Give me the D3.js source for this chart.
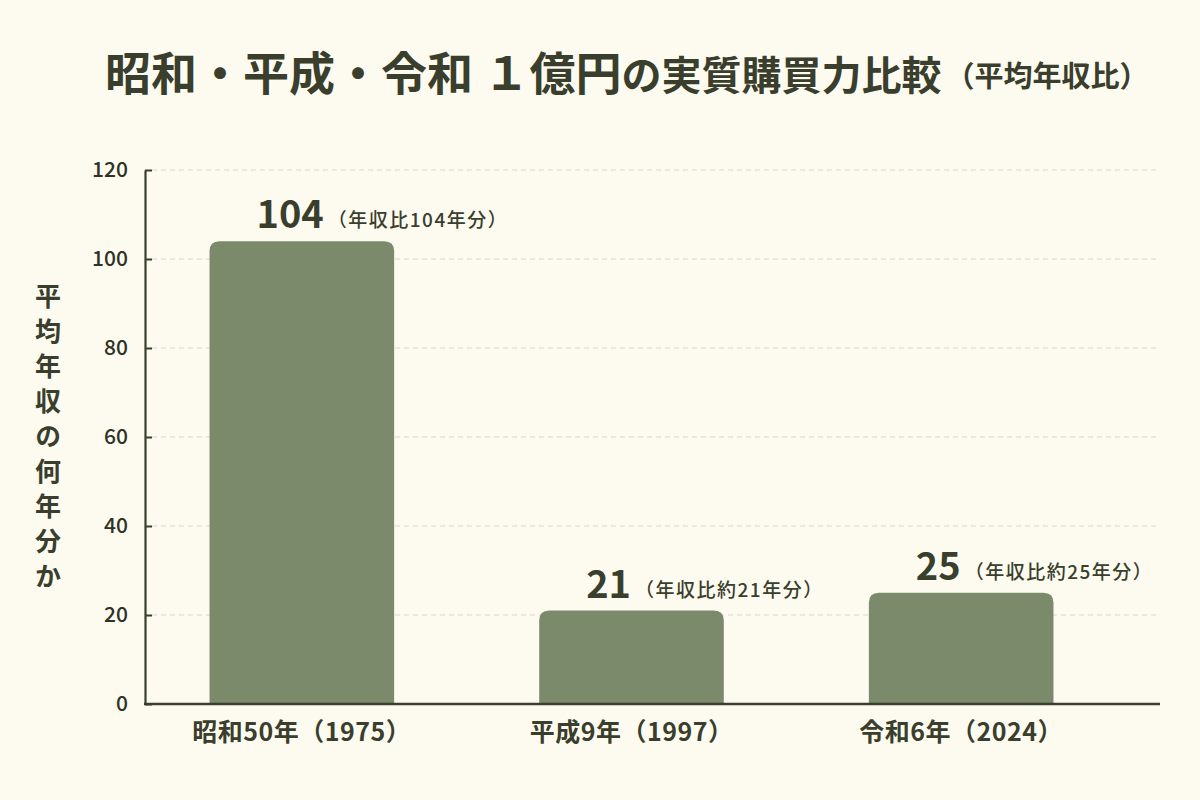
<!DOCTYPE html>
<html>
<head>
<meta charset="utf-8">
<script src="https://cdn.jsdelivr.net/npm/d3@7"></script>
<style>
  html, body { margin: 0; padding: 0; background: #fdfbf0; }
  svg text { font-family: "Noto Sans CJK JP", "Noto Sans", sans-serif; }
</style>
</head>
<body>
<div id="chart"></div>
<script>
// data
const categories = ["昭和50年（1975）", "平成9年（1997）", "令和6年（2024）"];
const values = [104, 21, 25];
const notes = ["（年収比104年分）", "（年収比約21年分）", "（年収比約25年分）"];
const yTicks = [0, 20, 40, 60, 80, 100, 120];

const W = 1200, H = 800;
const plot = { left: 145, right: 1160, top: 170, bottom: 704 };
const ink = "#3a3e2c";
const barColor = "#7a8a6b";

const svg = d3.select("#chart").append("svg")
    .attr("width", W)
    .attr("height", H)
    .style("background", "#fdfbf0");

// title
const title = svg.append("text")
    .attr("x", 105)
    .attr("y", 90)
    .attr("fill", ink)
    .attr("font-weight", 700);
title.append("tspan").attr("font-size", 46).text("昭和・平成・令和 １億円");
title.append("tspan").attr("font-size", 40).text("の実質購買力比較");
title.append("tspan").attr("font-size", 29).attr("dx", 4).attr("dy", -3).text("（平均年収比）");

// scales
const x = d3.scaleBand()
    .domain(categories)
    .range([137, 1126])
    .paddingInner(0.44)
    .paddingOuter(0.22);

const y = d3.scaleLinear()
    .domain([0, 120])
    .range([plot.bottom, plot.top]);

// dashed grid
svg.append("g")
    .selectAll("line")
    .data(yTicks.filter(d => d > 0))
    .join("line")
    .attr("x1", plot.left + 7)
    .attr("x2", plot.right)
    .attr("y1", d => y(d))
    .attr("y2", d => y(d))
    .attr("stroke", "#d6d5c8")
    .attr("stroke-width", 1.2)
    .attr("stroke-dasharray", "5,4");

// bars, rounded on top only
function barPath(d, i) {
    const x0 = x(categories[i]), w = x.bandwidth();
    const top = y(d), base = y(0), r = 10;
    return `M${x0},${base}V${top + r}Q${x0},${top} ${x0 + r},${top}` +
           `H${x0 + w - r}Q${x0 + w},${top} ${x0 + w},${top + r}V${base}Z`;
}

svg.append("g")
    .selectAll("path")
    .data(values)
    .join("path")
    .attr("d", barPath)
    .attr("fill", barColor);

// value labels
const labels = svg.append("g")
    .selectAll("text")
    .data(values)
    .join("text")
    .attr("x", (d, i) => x(categories[i]) + 47)
    .attr("y", d => y(d) - 13)
    .attr("fill", ink);
labels.append("tspan")
    .attr("font-size", 38)
    .attr("font-weight", 700)
    .text(d => d);
labels.append("tspan")
    .attr("font-size", 19)
    .attr("font-weight", 500)
    .attr("dx", 4)
    .attr("dy", -1)
    .style("letter-spacing", "1.5px")
    .text((d, i) => notes[i]);

// y axis, ticks pointing inward
const yAxis = svg.append("g")
    .attr("transform", `translate(${plot.left},0)`)
    .call(d3.axisLeft(y).tickValues(yTicks).tickSizeInner(-7).tickSizeOuter(0).tickPadding(17));
yAxis.select(".domain").attr("stroke", ink).attr("stroke-width", 2.2);
yAxis.selectAll(".tick line").attr("stroke", ink).attr("stroke-width", 2);
yAxis.selectAll(".tick text")
    .attr("fill", "#2f3226")
    .attr("font-size", 21)
    .attr("font-weight", 500)
    .attr("font-family", "\"Noto Sans CJK JP\", sans-serif");

// baseline
svg.append("line")
    .attr("x1", plot.left - 1)
    .attr("x2", plot.right)
    .attr("y1", y(0))
    .attr("y2", y(0))
    .attr("stroke", ink)
    .attr("stroke-width", 2.4);

// x labels
const xAxis = svg.append("g")
    .attr("transform", `translate(0,${y(0)})`)
    .call(d3.axisBottom(x).tickSize(0).tickPadding(19));
xAxis.select(".domain").remove();
xAxis.selectAll(".tick text")
    .attr("fill", ink)
    .attr("font-size", 25)
    .attr("font-weight", 600)
    .style("letter-spacing", "0.5px")
    .attr("font-family", "\"Noto Sans CJK JP\", sans-serif");

// y axis title, vertical
svg.append("text")
    .attr("x", 48)
    .attr("y", 441)
    .attr("text-anchor", "middle")
    .attr("fill", ink)
    .attr("font-size", 26)
    .attr("font-weight", 700)
    .style("writing-mode", "vertical-rl")
    .style("letter-spacing", "9px")
    .text("平均年収の何年分か");
</script>
</body>
</html>
